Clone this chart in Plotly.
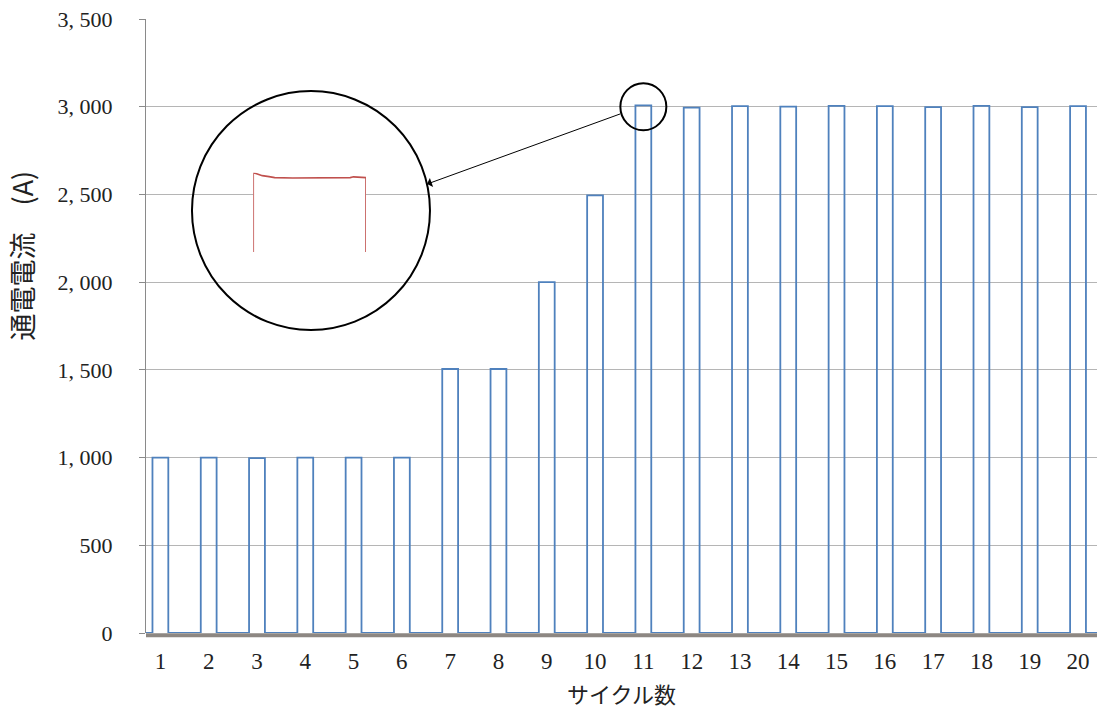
import plotly.graph_objects as go

# ---- data ----
cycles = list(range(1, 21))
peak_current = [1000, 1000, 997, 1000, 1000, 1000, 1505, 1505, 2000, 2495,
                3008, 2995, 3003, 3000, 3005, 3003, 2998, 3005, 2998, 3003]
pulse_halfwidth = 0.164  # in cycles

y_tick_vals = [0, 500, 1000, 1500, 2000, 2500, 3000, 3500]
y_tick_text = ["0", "500", "1, 000", "1, 500", "2, 000", "2, 500", "3, 000", "3, 500"]
x_tick_text = [str(c) for c in cycles]

# zoomed-in pulse (inset), percent of pulse duration vs current
inset_time = [0, 0, 3, 8, 14, 19, 35, 50, 70, 86, 89, 95, 100, 100]
inset_current = [2950, 3030, 3029, 3027, 3026, 3025, 3024.6, 3024.5, 3024.6, 3025, 3025.8, 3025.6, 3025, 2950]

# ---- build waveform from data ----
wx, wy = [0.70], [0]
for c, a in zip(cycles, peak_current):
    wx += [c - pulse_halfwidth, c - pulse_halfwidth, c + pulse_halfwidth, c + pulse_halfwidth]
    wy += [0, a, a, 0]
wx.append(20.45)
wy.append(0)

serif = "Liberation Serif"
jp = "Noto Sans CJK JP"

fig = go.Figure()
fig.add_trace(go.Scatter(x=wx, y=wy, mode="lines",
                         line=dict(color="#4f81bd", width=1.8), showlegend=False))
# inset zoomed pulse
fig.add_trace(go.Scatter(x=inset_time, y=inset_current, mode="lines", xaxis="x2", yaxis="y2",
                         line=dict(color="#c0504d", width=1.6), showlegend=False))

fig.update_layout(
    width=1097, height=711,
    margin=dict(l=146, r=0, t=19, b=78),
    paper_bgcolor="white", plot_bgcolor="white",
    xaxis=dict(range=[0.702, 20.393], tickvals=cycles, ticktext=x_tick_text,
               showgrid=False, zeroline=False, showline=False, ticks="",
               tickfont=dict(family=serif, size=23, color="#222"), ticklabelstandoff=12),
    yaxis=dict(range=[0, 3500], tickvals=y_tick_vals, ticktext=y_tick_text,
               showgrid=True, gridcolor="#b5b5b5", gridwidth=1, zeroline=False,
               showline=True, linecolor="#8a8a8a", linewidth=1,
               ticks="outside", ticklen=6, tickcolor="#8a8a8a",
               tickfont=dict(family=serif, size=22, color="#222"), ticklabelstandoff=22),
    xaxis2=dict(domain=[0.1128, 0.2313], range=[0, 100], visible=False, anchor="y2"),
    yaxis2=dict(domain=[0.6205, 0.7497], range=[2950, 3030], visible=False, anchor="x2"),
)

# gray zero-level band (just under the axis)
fig.add_shape(type="line", xref="paper", yref="paper", x0=0, x1=1,
              y0=-2.2 / 614, y1=-2.2 / 614, layer="below",
              line=dict(color="#8d8782", width=4))

# circles: small one around pulse 11 top, big inset circle
fig.add_shape(type="circle", xref="x", yref="y", xsizemode="pixel", ysizemode="pixel",
              xanchor=11, yanchor=3000, x0=-23, x1=23, y0=-23.5, y1=23.5,
              line=dict(color="black", width=2))
fig.add_shape(type="circle", xref="x", yref="y", xsizemode="pixel", ysizemode="pixel",
              xanchor=4.118, yanchor=2408, x0=-119, x1=119, y0=-119.5, y1=119.5,
              line=dict(color="black", width=2))

# arrow from small circle to inset
fig.add_annotation(x=6.52, y=2559, xref="x", yref="y", text="", showarrow=True,
                   ax=194.7, ay=-70.7, arrowhead=1, arrowsize=1.6, arrowwidth=1,
                   arrowcolor="black", standoff=0, startstandoff=0)

# axis titles
fig.add_annotation(text="サイクル数", xref="paper", yref="paper", x=0.5, y=-0.098, yanchor="middle",
                   xanchor="center", showarrow=False,
                   font=dict(family=jp, size=22, color="#222"))
fig.add_annotation(text="通電電流　(A)", xref="paper", yref="paper", x=-0.131, y=0.6156,
                   xanchor="center", yanchor="middle", textangle=-90, showarrow=False,
                   font=dict(family=jp, size=27, color="#222"))

fig.write_html("out.html", config={"displayModeBar": False},
               post_script="document.body.style.margin='0';document.body.style.padding='0';")
